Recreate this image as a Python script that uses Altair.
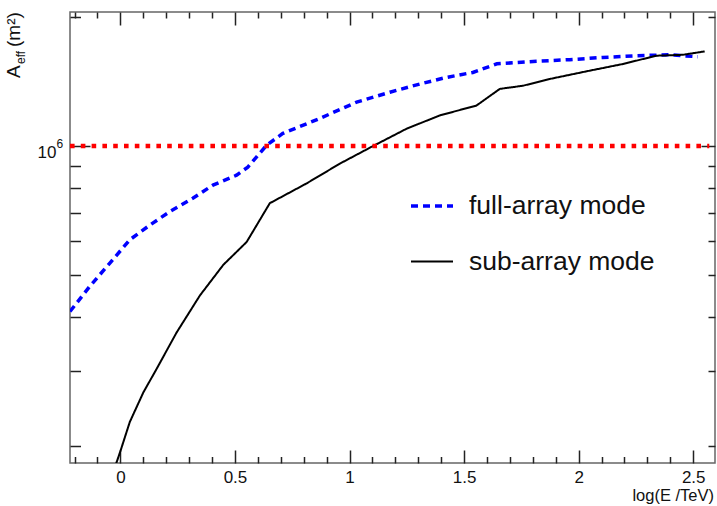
import altair as alt
import pandas as pd

# ---- data ----
series_names = ["full-array mode", "sub-array mode"]

full_x = [-0.22, -0.133, -0.046, 0.041, 0.129, 0.216, 0.316, 0.404, 0.507, 0.556,
          0.638, 0.709, 0.870, 1.031, 1.176, 1.307, 1.423, 1.538, 1.643, 1.816,
          1.961, 2.105, 2.252, 2.397, 2.52]
full_y = [4.12e5, 4.72e5, 5.34e5, 6.05e5, 6.55e5, 7.04e5, 7.56e5, 8.11e5, 8.55e5, 8.93e5,
          1.004e6, 1.07e6, 1.159e6, 1.265e6, 1.334e6, 1.394e6, 1.444e6, 1.483e6, 1.553e6, 1.574e6,
          1.588e6, 1.607e6, 1.622e6, 1.630e6, 1.613e6]

sub_x = [-0.02, 0.0, 0.041, 0.1, 0.158, 0.245, 0.347, 0.449, 0.551, 0.652,
         0.812, 0.958, 1.103, 1.249, 1.394, 1.554, 1.656, 1.757, 1.874, 2.048,
         2.194, 2.339, 2.455, 2.55]
sub_y = [1.815e5, 1.95e5, 2.28e5, 2.67e5, 3.03e5, 3.68e5, 4.49e5, 5.29e5, 5.98e5, 7.36e5,
         8.18e5, 9.1e5, 1.0e6, 1.097e6, 1.178e6, 1.242e6, 1.358e6, 1.381e6, 1.432e6, 1.497e6,
         1.552e6, 1.622e6, 1.630e6, 1.66e6]

ref_x = [-0.22, 2.57]
ref_y = [1.0e6, 1.0e6]

x_major_ticks = [0, 0.5, 1, 1.5, 2, 2.5]
x_minor_ticks = [-0.2, -0.1, 0.1, 0.2, 0.3, 0.4, 0.6, 0.7, 0.8, 0.9, 1.1, 1.2, 1.3, 1.4,
                 1.6, 1.7, 1.8, 1.9, 2.1, 2.2, 2.3, 2.4, 2.6]
y_major_ticks = [1e6]
y_minor_ticks = [2e5, 3e5, 4e5, 5e5, 6e5, 7e5, 8e5, 9e5, 2e6]
y_major_base = "10"
y_major_exp = ["6"]

x_title = ["log(E /TeV)"]
y_title_main = ["A"]
y_title_sub = ["eff"]
y_title_unit = ["(m\u00b2)"]

curves = pd.DataFrame({
    "x": full_x + sub_x,
    "y": full_y + sub_y,
    "series": [series_names[0]] * len(full_x) + [series_names[1]] * len(sub_x),
})
ref = pd.DataFrame({"x": ref_x, "y": ref_y})

FONT = "Liberation Sans"
xs = alt.Scale(domain=[-0.22, 2.595], nice=False, zero=False)
ys = alt.Scale(type="log", domain=[1.83e5, 2.05e6], nice=False)

common = dict(domain=False, grid=False, title=None, tickColor="#222222", tickWidth=1.5)

ax_bottom_major = alt.Axis(orient="bottom", values=x_major_ticks, offset=-13, tickSize=13,
                           format="~g", labelFont=FONT, labelFontSize=17, labelColor="#111111",
                           labelPadding=6, labelFlush=False, labelOverlap=False, **common)
ax_bottom_minor = alt.Axis(orient="bottom", values=x_minor_ticks, offset=-6.5, tickSize=6.5,
                           labels=False, **common)
ax_top_major = alt.Axis(orient="top", values=x_major_ticks, offset=-13, tickSize=13,
                        labels=False, **common)
ax_top_minor = alt.Axis(orient="top", values=x_minor_ticks, offset=-6, tickSize=6,
                        labels=False, **common)

ax_left_major = alt.Axis(orient="left", values=y_major_ticks, offset=-20, tickSize=20,
                         labelExpr="'" + y_major_base + "'", labelFont=FONT, labelFontSize=17,
                         labelColor="#111111", labelPadding=14, labelOffset=7, **common)
ax_left_minor = alt.Axis(orient="left", values=y_minor_ticks, offset=-10.5, tickSize=10.5,
                         labels=False, **common)
ax_right_major = alt.Axis(orient="right", values=y_major_ticks, offset=-14, tickSize=14,
                          labels=False, **common)
ax_right_minor = alt.Axis(orient="right", values=y_minor_ticks, offset=-7, tickSize=7,
                          labels=False, **common)

leg = alt.Legend(title=None, orient="none", legendX=339, legendY=171, symbolType="stroke",
                 symbolSize=1764, labelFontSize=26.5, labelFont=FONT, labelColor="#111111",
                 labelOffset=14, rowPadding=19.5, padding=0, labelLimit=500)

curve_layer = alt.Chart(curves).mark_line(clip=True).encode(
    x=alt.X("x:Q", scale=xs, axis=ax_bottom_minor),
    y=alt.Y("y:Q", scale=ys, axis=ax_left_minor),
    color=alt.Color("series:N", scale=alt.Scale(domain=series_names, range=["#0000ff", "#000000"]), legend=leg),
    strokeDash=alt.StrokeDash("series:N", scale=alt.Scale(domain=series_names, range=[[7, 5], [1, 0]]), legend=leg),
    strokeWidth=alt.StrokeWidth("series:N", scale=alt.Scale(domain=series_names, range=[3.5, 2]), legend=leg),
    detail="series:N",
)

ref_layer = alt.Chart(ref).mark_line(color="#ff0000", strokeWidth=4.6, strokeDash=[4.6, 6.2], clip=True).encode(
    x=alt.X("x:Q", scale=xs, axis=ax_bottom_major),
    y=alt.Y("y:Q", scale=ys, axis=ax_left_major),
)

top_right_major = alt.Chart(ref).mark_line(opacity=0).encode(
    x=alt.X("x:Q", scale=xs, axis=ax_top_major),
    y=alt.Y("y:Q", scale=ys, axis=ax_right_major),
)
top_right_minor = alt.Chart(ref).mark_line(opacity=0).encode(
    x=alt.X("x:Q", scale=xs, axis=ax_top_minor),
    y=alt.Y("y:Q", scale=ys, axis=ax_right_minor),
)

# superscript of the 10^6 label, positioned through the y scale
exp_layer = alt.Chart(pd.DataFrame({"t": y_major_exp, "y": y_major_ticks})).mark_text(
    font=FONT, fontSize=12, align="left", baseline="middle", color="#111111", dy=-2
).encode(text="t:N", y=alt.Y("y:Q", scale=ys, axis=None), x=alt.value(-13.5))

xtitle = alt.Chart(pd.DataFrame({"t": x_title})).mark_text(
    font=FONT, fontSize=16.5, align="right", baseline="alphabetic", color="#111111"
).encode(text="t:N", x=alt.value(644), y=alt.value(489))

yt1 = alt.Chart(pd.DataFrame({"t": y_title_main})).mark_text(
    font=FONT, fontSize=19, align="left", baseline="alphabetic", angle=270, color="#111111"
).encode(text="t:N", x=alt.value(-50), y=alt.value(66))
yt2 = alt.Chart(pd.DataFrame({"t": y_title_sub})).mark_text(
    font=FONT, fontSize=12, align="left", baseline="alphabetic", angle=270, color="#111111"
).encode(text="t:N", x=alt.value(-45), y=alt.value(52))
yt3 = alt.Chart(pd.DataFrame({"t": y_title_unit})).mark_text(
    font=FONT, fontSize=19, align="left", baseline="alphabetic", angle=270, color="#111111"
).encode(text="t:N", x=alt.value(-50), y=alt.value(35))

chart = alt.layer(
    curve_layer, ref_layer, top_right_major, top_right_minor, exp_layer, xtitle, yt1, yt2, yt3
).resolve_axis(x="independent", y="independent").properties(
    width=645, height=451,
    autosize=alt.AutoSizeParams(type="none"),
    padding={"left": 70, "top": 12, "right": 2, "bottom": 43},
    background="white",
).configure_view(stroke="#666666", strokeWidth=1.5)

chart.save("out.html", embed_options={"renderer": "svg", "actions": False})
